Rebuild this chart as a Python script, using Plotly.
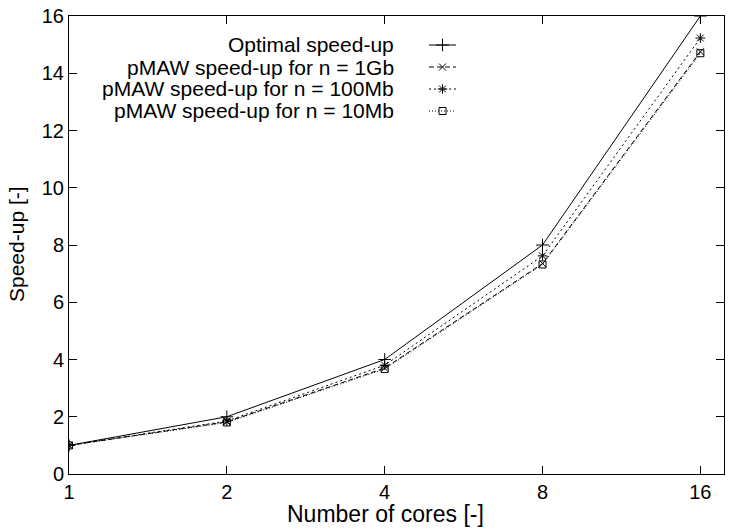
import math
import plotly.graph_objects as go

cores = [1, 2, 4, 8, 16]
optimal = [1, 2, 4, 8, 16]
pmaw_1gb = [1, 1.82, 3.70, 7.35, 14.75]
pmaw_100mb = [1, 1.85, 3.80, 7.62, 15.23]
pmaw_10mb = [1, 1.80, 3.67, 7.32, 14.70]
names = ["Optimal speed-up", "pMAW speed-up for n = 1Gb",
         "pMAW speed-up for n = 100Mb", "pMAW speed-up for n = 10Mb"]
x_ticks = [1, 2, 4, 8, 16]
y_ticks = [0, 2, 4, 6, 8, 10, 12, 14, 16]
x_title = "Number of cores [-]"
y_title = "Speed-up [-]"

W, H = 730, 529
L, R, T, B = 69, 6, 16, 55
PW, PH = W - L - R, H - T - B
FONT = "Liberation Sans, Arial, Helvetica, sans-serif"


def px(x):
    return (x - L) / PW


def py(y):
    return (H - B - y) / PH


series = [optimal, pmaw_1gb, pmaw_100mb, pmaw_10mb]
dashes = ["solid", "5px,3px", "2px,3px", "1px,2px"]
symbols = ["cross-thin-open", "x-thin-open", "asterisk-open", "square-open"]
sizes = [9, 7, 8, 7]

fig = go.Figure()
for ys, nm, d, s, sz in zip(series, names, dashes, symbols, sizes):
    fig.add_trace(go.Scatter(
        x=cores, y=ys, name=nm, mode="lines+markers",
        line=dict(color="black", width=1, dash=d),
        marker=dict(symbol=s, size=sz, color="black",
                    line=dict(color="black", width=1)),
        showlegend=False))

# manual gnuplot-style legend (text right-aligned, sample on the right)
leg_y = [45, 67, 89, 111]
text_right = 396
sx0, sx1 = 429, 456
for nm, d, s, sz, ly in zip(names, dashes, symbols, sizes, leg_y):
    fig.add_annotation(x=px(text_right), y=py(ly), xref="paper", yref="paper",
                       text=nm, showarrow=False, xanchor="right",
                       yanchor="middle",
                       font=dict(family=FONT, size=21, color="black"))
    fig.add_trace(go.Scatter(
        x=[sx0, (sx0 + sx1) / 2, sx1], y=[ly, ly, ly], xaxis="x2", yaxis="y2",
        mode="lines", line=dict(color="black", width=1, dash=d),
        showlegend=False, hoverinfo="skip"))
    fig.add_trace(go.Scatter(
        x=[(sx0 + sx1) / 2], y=[ly], xaxis="x2", yaxis="y2",
        mode="markers",
        marker=dict(symbol=s, size=sz, color="black",
                    line=dict(color="black", width=1)),
        showlegend=False, hoverinfo="skip"))

# axis titles as annotations (placed like the gnuplot original)
fig.add_annotation(x=px(385), y=py(514), xref="paper", yref="paper",
                   text=x_title, showarrow=False, xanchor="center",
                   yanchor="middle",
                   font=dict(family=FONT, size=23, color="black"))
fig.add_annotation(x=px(16), y=py(244), xref="paper", yref="paper",
                   text=y_title, textangle=-90, showarrow=False,
                   xanchor="center", yanchor="middle",
                   font=dict(family=FONT, size=21, color="black"))

fig.update_layout(
    width=W, height=H,
    margin=dict(l=L, r=R, t=T, b=B),
    paper_bgcolor="white", plot_bgcolor="white",
    font=dict(family=FONT, size=20, color="black"),
    xaxis=dict(type="log", range=[0, math.log10(17.75)],
               tickvals=x_ticks, ticktext=[str(v) for v in x_ticks],
               ticks="inside", ticklen=8, tickwidth=1, tickcolor="black",
               showline=True, linecolor="black", linewidth=1, mirror="allticks",
               showgrid=False, zeroline=False, tickfont=dict(size=20)),
    yaxis=dict(range=[0, 16], tickvals=y_ticks,
               ticks="inside", ticklen=8, tickwidth=1, tickcolor="black",
               showline=True, linecolor="black", linewidth=1, mirror="allticks",
               showgrid=False, zeroline=False, tickfont=dict(size=20)),
    xaxis2=dict(range=[L, W - R], overlaying="x", visible=False, fixedrange=True),
    yaxis2=dict(range=[H - B, T], overlaying="y", visible=False, fixedrange=True),
    showlegend=False,
)

fig.write_html("out.html")
